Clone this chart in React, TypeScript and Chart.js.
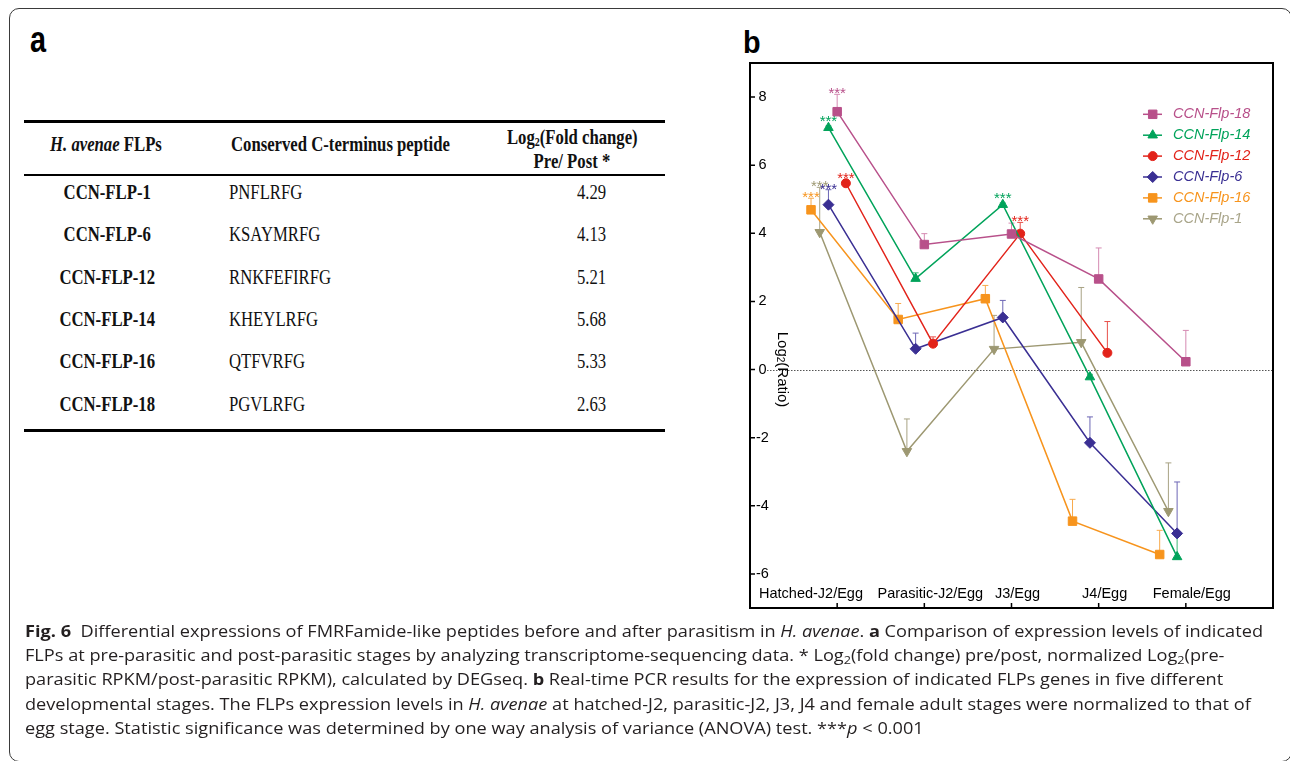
import React, { useEffect, useLayoutEffect, useRef } from 'react';
import { Chart, registerables } from 'chart.js';
import { drawPoint } from 'chart.js/helpers';

Chart.register(...registerables);

// ---------------- data ----------------
const stages = ['Hatched-J2/Egg', 'Parasitic-J2/Egg', 'J3/Egg', 'J4/Egg', 'Female/Egg'];
const yTickValues = [-6, -4, -2, 0, 2, 4, 6, 8];

const flp18Values = [7.57, 3.67, 3.98, 2.66, 0.23];
const flp18Err = [0.51, 0.32, 0.32, 0.91, 0.92];
const flp18Sig = ['***', '', '', '', ''];

const flp14Values = [7.1, 2.67, 4.84, -0.22, -5.5];
const flp14Err = [0.05, 0.17, 0.05, 0.08, 0.6];
const flp14Sig = ['***', '', '***', '', ''];

const flp12Values = [5.47, 0.76, 3.99, 0.49, null];
const flp12Err = [0.05, 0.2, 0.33, 0.92, null];
const flp12Sig = ['***', '', '***', '', ''];

const flp6Values = [4.84, 0.61, 1.53, -2.15, -4.81];
const flp6Err = [0.44, 0.46, 0.5, 0.76, 1.51];
const flp6Sig = ['***', '', '', '', ''];

const flp16Values = [4.69, 1.47, 2.08, -4.45, -5.43];
const flp16Err = [0.34, 0.47, 0.39, 0.64, 0.71];
const flp16Sig = ['***', '', '', '', ''];

const flp1Values = [4.03, -2.4, 0.6, 0.8, -4.16];
const flp1Err = [1.32, 0.95, 0.99, 1.61, 1.42];
const flp1Sig = ['***', '', '', '', ''];

// table (panel a)
const flpNames = ['CCN-FLP-1', 'CCN-FLP-6', 'CCN-FLP-12', 'CCN-FLP-14', 'CCN-FLP-16', 'CCN-FLP-18'];
const peptides = ['PNFLRFG', 'KSAYMRFG', 'RNKFEFIRFG', 'KHEYLRFG', 'QTFVRFG', 'PGVLRFG'];
const foldChanges = ['4.29', '4.13', '5.21', '5.68', '5.33', '2.63'];

// ---------------- styles ----------------
const SANS = '"Liberation Sans", Arial, Helvetica, sans-serif';
const SERIF = '"Liberation Serif", "Times New Roman", Times, serif';
const CAPTION_FONT = '"Open Sans", "Noto Sans", sans-serif';

type Series = {
  label: string;
  values: (number | null)[];
  err: (number | null)[];
  sig: string[];
  color: string;
  errColor: string;
  textColor: string;
  pointStyle: any;
  rotation: number;
  radius: number;
  offset: number;
};

const series: Series[] = [
  { label: 'CCN-Flp-18', values: flp18Values, err: flp18Err, sig: flp18Sig, color: '#b8508a', errColor: '#d58ab2', textColor: '#b8508a', pointStyle: 'rect', rotation: 0, radius: 6, offset: 0 },
  { label: 'CCN-Flp-14', values: flp14Values, err: flp14Err, sig: flp14Sig, color: '#00a35a', errColor: '#3db877', textColor: '#00a35a', pointStyle: 'triangle', rotation: 0, radius: 5.5, offset: -0.1 },
  { label: 'CCN-Flp-12', values: flp12Values, err: flp12Err, sig: flp12Sig, color: '#e2231a', errColor: '#e8504a', textColor: '#e2231a', pointStyle: 'circle', rotation: 0, radius: 4.5, offset: 0.1 },
  { label: 'CCN-Flp-6', values: flp6Values, err: flp6Err, sig: flp6Sig, color: '#3a2f93', errColor: '#6c66b5', textColor: '#3a2f93', pointStyle: 'rectRot', rotation: 0, radius: 5.5, offset: -0.1 },
  { label: 'CCN-Flp-16', values: flp16Values, err: flp16Err, sig: flp16Sig, color: '#f7941d', errColor: '#f8aa4c', textColor: '#f7941d', pointStyle: 'rect', rotation: 0, radius: 6, offset: -0.3 },
  { label: 'CCN-Flp-1', values: flp1Values, err: flp1Err, sig: flp1Sig, color: '#9d9872', errColor: '#a8a384', textColor: '#a9a58a', pointStyle: 'triangle', rotation: 180, radius: 5.5, offset: -0.2 },
];

const decorPlugin = {
  id: 'figureDecor',
  beforeDatasetsDraw(chart: any) {
    const { ctx, chartArea: a } = chart;
    const x = chart.scales.x;
    const y = chart.scales.y;
    ctx.save();
    // dotted zero line
    const y0 = Math.round(y.getPixelForValue(0)) + 0.5;
    ctx.strokeStyle = '#555';
    ctx.lineWidth = 1;
    ctx.setLineDash([1.5, 1.5]);
    ctx.beginPath();
    ctx.moveTo(a.left + 17, y0);
    ctx.lineTo(a.right, y0);
    ctx.stroke();
    ctx.setLineDash([]);
    // error bars (upper half)
    series.forEach((s) => {
      s.values.forEach((v, i) => {
        const e = s.err[i];
        if (v == null || !e) return;
        const px = x.getPixelForValue(i + 1 + s.offset);
        const py = y.getPixelForValue(v);
        const pt = y.getPixelForValue(v + e);
        ctx.strokeStyle = s.errColor;
        ctx.lineWidth = 1;
        ctx.beginPath();
        ctx.moveTo(px, py);
        ctx.lineTo(px, pt);
        ctx.moveTo(px - 3, pt);
        ctx.lineTo(px + 3, pt);
        ctx.stroke();
      });
    });
    ctx.restore();
  },
  afterDatasetsDraw(chart: any) {
    const { ctx, chartArea: a } = chart;
    const x = chart.scales.x;
    const y = chart.scales.y;
    ctx.save();
    // frame
    ctx.strokeStyle = '#000';
    ctx.lineWidth = 2;
    ctx.strokeRect(a.left, a.top, a.right - a.left, a.bottom - a.top);
    // inward tick marks
    ctx.lineWidth = 1.5;
    ctx.beginPath();
    yTickValues.forEach((v) => {
      const py = y.getPixelForValue(v);
      ctx.moveTo(a.left, py);
      ctx.lineTo(a.left + 5, py);
    });
    stages.forEach((_, i) => {
      const px = x.getPixelForValue(i + 1);
      ctx.moveTo(px, a.bottom);
      ctx.lineTo(px, a.bottom - 5);
    });
    ctx.stroke();
    // category labels (inside the frame)
    ctx.fillStyle = '#000';
    ctx.font = `14.5px ${SANS}`;
    ctx.textBaseline = 'alphabetic';
    stages.forEach((s, i) => {
      const px = x.getPixelForValue(i + 1);
      if (i === 0) {
        ctx.textAlign = 'left';
        ctx.fillText(s, a.left + 9, a.bottom - 10);
      } else {
        ctx.textAlign = 'center';
        ctx.fillText(s, px + 6, a.bottom - 10);
      }
    });
    // y title, rotated
    ctx.save();
    const ty = y.getPixelForValue(0);
    ctx.translate(a.left + 32, ty);
    ctx.rotate(Math.PI / 2);
    ctx.textBaseline = 'middle';
    ctx.textAlign = 'left';
    ctx.font = `15px ${SANS}`;
    const w1 = ctx.measureText('Log').width;
    const w3 = ctx.measureText('(Ratio)').width;
    ctx.font = `10px ${SANS}`;
    const w2 = ctx.measureText('2').width;
    const start = -(w1 + w2 + w3) / 2;
    ctx.font = `15px ${SANS}`;
    ctx.fillText('Log', start, 0);
    ctx.font = `10px ${SANS}`;
    ctx.fillText('2', start + w1, 2);
    ctx.font = `15px ${SANS}`;
    ctx.fillText('(Ratio)', start + w1 + w2, 0);
    ctx.restore();
    // significance stars
    ctx.font = `15px ${SANS}`;
    ctx.textAlign = 'center';
    ctx.textBaseline = 'alphabetic';
    series.forEach((s) => {
      s.sig.forEach((mark, i) => {
        const v = s.values[i];
        if (!mark || v == null) return;
        const px = x.getPixelForValue(i + 1 + s.offset);
        const markerTop = y.getPixelForValue(v) - s.radius;
        const errTop = y.getPixelForValue(v + (s.err[i] || 0));
        const top = Math.min(markerTop, errTop);
        ctx.fillStyle = s.color;
        ctx.fillText(mark, px, top + 4);
      });
    });
    // legend
    series.forEach((s, k) => {
      const ly = a.top + 51.3 + k * 20.9;
      const lx = a.right - 130;
      ctx.strokeStyle = s.color;
      ctx.lineWidth = 1.5;
      ctx.beginPath();
      ctx.moveTo(lx, ly);
      ctx.lineTo(lx + 19, ly);
      ctx.stroke();
      ctx.fillStyle = s.color;
      ctx.lineWidth = 1;
      drawPoint(ctx, { pointStyle: s.pointStyle, rotation: s.rotation, radius: s.radius, borderWidth: 1 } as any, lx + 9.7, ly);
      ctx.fillStyle = s.textColor;
      ctx.font = `italic 14.5px ${SANS}`;
      ctx.textAlign = 'left';
      ctx.textBaseline = 'middle';
      ctx.fillText(s.label, a.right - 100, ly);
    });
    ctx.restore();
  },
};

function LineChart() {
  const ref = useRef<HTMLCanvasElement | null>(null);
  useEffect(() => {
    if (!ref.current) return;
    const chart = new Chart(ref.current, {
      type: 'line',
      data: {
        datasets: series.map((s) => ({
          label: s.label,
          data: s.values.map((v, i) => ({ x: i + 1 + s.offset, y: v })),
          borderColor: s.color,
          backgroundColor: s.color,
          borderWidth: 1.5,
          pointStyle: s.pointStyle,
          pointRotation: s.rotation,
          pointRadius: s.radius,
          pointBorderWidth: 1,
          pointBackgroundColor: s.color,
          pointBorderColor: s.color,
          tension: 0,
          fill: false,
        })) as any,
      },
      options: {
        animation: false,
        responsive: false,
        devicePixelRatio: 1,
        layout: { padding: { left: 18, top: 33, right: 17, bottom: 22 } },
        plugins: { legend: { display: false }, tooltip: { enabled: false } },
        scales: {
          x: { type: 'linear', min: 0, max: 6, display: false },
          y: {
            type: 'linear',
            min: -7,
            max: 9,
            afterBuildTicks: (scale: any) => {
              scale.ticks = yTickValues.map((value) => ({ value }));
            },
            grid: { display: false, drawTicks: false },
            border: { display: false },
            ticks: {
              mirror: true,
              crossAlign: 'center',
              padding: 6,
              color: '#000',
              font: { size: 14.5, family: SANS },
            },
          },
        },
      } as any,
      plugins: [decorPlugin],
    });
    return () => chart.destroy();
  }, []);
  return (
    <canvas
      ref={ref}
      width={570}
      height={600}
      style={{ position: 'absolute', left: 720, top: 30, width: 570, height: 600 }}
    />
  );
}

const cond = (origin: string): React.CSSProperties => ({
  display: 'inline-block',
  transform: 'scaleX(0.835)',
  transformOrigin: origin,
  whiteSpace: 'nowrap',
});

function FlpTable() {
  const rowTop = 56;
  const rowH = 42.3;
  return (
    <div style={{ position: 'absolute', left: 24, top: 120, width: 641, height: 312, fontFamily: SERIF, fontSize: 20, color: '#111' }}>
      <div style={{ position: 'absolute', left: 0, top: 0, width: 641, height: 3.3, background: '#000' }} />
      <div style={{ position: 'absolute', left: 0, top: 54, width: 641, height: 2, background: '#000' }} />
      <div style={{ position: 'absolute', left: 0, top: 308.5, width: 641, height: 3.3, background: '#000' }} />
      {/* header */}
      <div style={{ position: 'absolute', left: 0, top: 3, width: 164, textAlign: 'center', lineHeight: '42.5px', fontWeight: 'bold' }}>
        <span style={cond('center')}><i>H. avenae</i> FLPs</span>
      </div>
      <div style={{ position: 'absolute', left: 207, top: 3, lineHeight: '42.5px', fontWeight: 'bold' }}>
        <span style={cond('left')}>Conserved C-terminus peptide</span>
      </div>
      <div style={{ position: 'absolute', left: 448, top: 5, width: 200, textAlign: 'center', lineHeight: '24px', fontWeight: 'bold' }}>
        <span style={cond('center')}>
          Log<span style={{ fontSize: '0.6em', verticalAlign: '-0.15em', lineHeight: 1 }}>2</span>(Fold change)
        </span>
        <br />
        <span style={cond('center')}>Pre/ Post *</span>
      </div>
      {/* rows */}
      {flpNames.map((n, i) => (
        <React.Fragment key={n}>
          <div style={{ position: 'absolute', left: 0, top: rowTop + i * rowH, width: 166, textAlign: 'center', lineHeight: '32px', fontWeight: 'bold' }}>
            <span style={cond('center')}>{n}</span>
          </div>
          <div style={{ position: 'absolute', left: 205, top: rowTop + i * rowH, lineHeight: '32px' }}>
            <span style={cond('left')}>{peptides[i]}</span>
          </div>
          <div style={{ position: 'absolute', left: 507, top: rowTop + i * rowH, width: 120, textAlign: 'center', lineHeight: '32px' }}>
            <span style={cond('center')}>{foldChanges[i]}</span>
          </div>
        </React.Fragment>
      ))}
    </div>
  );
}

function Caption() {
  const lines = useRef<(HTMLSpanElement | null)[]>([]);
  useLayoutEffect(() => {
    const first = lines.current[0];
    if (!first) return;
    const w = first.offsetWidth;
    if (!w) return;
    const s = 1238 / w;
    lines.current.forEach((el) => {
      if (el) el.style.transform = `scaleX(${s})`;
    });
  }, []);
  const lineStyle: React.CSSProperties = {
    display: 'inline-block',
    whiteSpace: 'nowrap',
    transformOrigin: 'left center',
  };
  const sub = <span style={{ fontSize: '0.7em', verticalAlign: '-0.25em', lineHeight: 1 }}>2</span>;
  const setRef = (i: number) => (el: HTMLSpanElement | null) => {
    lines.current[i] = el;
  };
  return (
    <div style={{ position: 'absolute', left: 25, top: 619, fontFamily: CAPTION_FONT, fontSize: 16.5, lineHeight: '24.2px', color: '#231f20' }}>
      <div><span ref={setRef(0)} style={lineStyle}><b>Fig. 6</b>&nbsp; Differential expressions of FMRFamide-like peptides before and after parasitism in <i>H. avenae</i>. <b>a</b> Comparison of expression levels of indicated</span></div>
      <div><span ref={setRef(1)} style={lineStyle}>FLPs at pre-parasitic and post-parasitic stages by analyzing transcriptome-sequencing data. * Log{sub}(fold change) pre/post, normalized Log{sub}(pre-</span></div>
      <div><span ref={setRef(2)} style={lineStyle}>parasitic RPKM/post-parasitic RPKM), calculated by DEGseq. <b>b</b> Real-time PCR results for the expression of indicated FLPs genes in five different</span></div>
      <div><span ref={setRef(3)} style={lineStyle}>developmental stages. The FLPs expression levels in <i>H. avenae</i> at hatched-J2, parasitic-J2, J3, J4 and female adult stages were normalized to that of</span></div>
      <div><span ref={setRef(4)} style={lineStyle}>egg stage. Statistic significance was determined by one way analysis of variance (ANOVA) test. ***<i>p</i> &lt; 0.001</span></div>
    </div>
  );
}

export default function App() {
  return (
    <div style={{ position: 'absolute', left: 0, top: 0, width: 1290, height: 761, overflow: 'hidden', background: '#fff' }}>
      <div style={{ position: 'absolute', left: 9, top: 8, width: 1283, height: 754, border: '1px solid #3a3a3a', borderRadius: 10, boxSizing: 'border-box' }} />
      <div style={{ position: 'absolute', left: 29.5, top: 22, fontFamily: SANS, fontWeight: 'bold', fontSize: 36, lineHeight: 1, transform: 'scaleX(0.8)', transformOrigin: 'left' }}>a</div>
      <div style={{ position: 'absolute', left: 743, top: 26, fontFamily: SANS, fontWeight: 'bold', fontSize: 32, lineHeight: 1, transform: 'scaleX(0.9)', transformOrigin: 'left' }}>b</div>
      <FlpTable />
      <LineChart />
      <Caption />
    </div>
  );
}
